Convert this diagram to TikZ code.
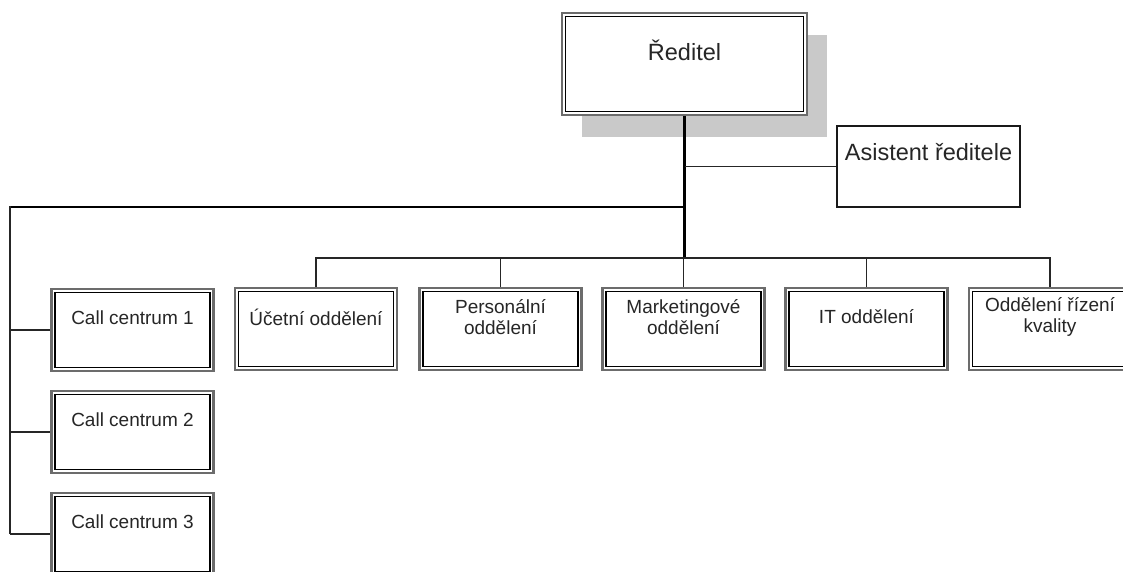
\documentclass[tikz,border=0pt]{standalone}
\usepackage{fontspec}
\setmainfont{Liberation Sans}
\usetikzlibrary{shadows}
\begin{document}
\begin{tikzpicture}[x=1pt,y=-1pt,
  txt/.style={font=\fontsize{19}{21}\selectfont, text=black!85, align=center, inner sep=0pt},
  bigtxt/.style={font=\fontsize{23.5}{26}\selectfont, text=black!85, align=center, inner sep=0pt},
  dbox/.style={rectangle, draw=gray!85!black, line width=2.4pt, fill=white, inner sep=0pt,
    minimum width=162pt, minimum height=82pt,
    path picture={\draw[black, line width=1.4pt]
      ([shift={(3.6pt,-3.6pt)}]path picture bounding box.north west) rectangle
      ([shift={(-3.6pt,3.6pt)}]path picture bounding box.south east);}},
  dept/.style={dbox, label={[txt, yshift=12pt]center:{#1}}},
  conn/.style={draw=black!85, line width=1.6pt},
  trunk/.style={draw=black, line width=3pt},
]
\useasboundingbox (0,0) rectangle (1123,571);
\clip (0,0) rectangle (1123,571);

% Director
\node[dbox, minimum width=245pt, minimum height=102pt,
  drop shadow={shadow xshift=20pt, shadow yshift=-22pt, fill=gray!42, opacity=1},
  label={[bigtxt, yshift=14pt]center:{Ředitel}}] (red) at (684.5,64) {};

% Assistant
\node[rectangle, draw=black!90, line width=1.4pt, fill=white, minimum width=183pt, minimum height=81pt,
  label={[bigtxt, yshift=14pt]center:{Asistent ředitele}}] (asi) at (928.5,166.5) {};

% Departments
\node[dept={Účetní oddělení}] (uc) at (316,329) {};
\node[dept={Personální\\oddělení}] (per) at (500.5,329) {};
\node[dept={Marketingové\\oddělení}] (mkt) at (683.5,329) {};
\node[dept={IT oddělení}] (it) at (866.5,329) {};
\node[dept={Oddělení řízení\\kvality}] (odd) at (1050,329) {};

% Call centres
\node[dept={Call centrum 1}] (c1) at (132.5,330) {};
\node[dept={Call centrum 2}] (c2) at (132.5,432) {};
\node[dept={Call centrum 3}] (c3) at (132.5,534) {};

% bus coordinates
\coordinate (bus) at (683.5,258);
\coordinate (lb) at (10,207);

% trunk
\draw[trunk] (red.south) -- (red.south |- bus);
% assistant link
\draw[conn] (red.south |- asi.west) -- (asi.west);
% department bus
\draw[conn] (uc.north) |- (odd.north |- bus) -- (odd.north);
\draw[conn] (per.north) -- (per.north |- bus);
\draw[conn] (mkt.north) -- (mkt.north |- bus);
\draw[conn] (it.north) -- (it.north |- bus);
% call centre bus
\draw[draw=black, line width=1.8pt] (red.south |- lb) -- (lb);
\draw[draw=black!85, line width=2.8pt] ([yshift=0.9pt]lb) -- (lb |- c3.west);
\draw[conn] (lb |- c1.west) -- (c1.west);
\draw[conn] (lb |- c2.west) -- (c2.west);
\draw[conn] (lb |- c3.west) -- (c3.west);
\end{tikzpicture}
\end{document}
